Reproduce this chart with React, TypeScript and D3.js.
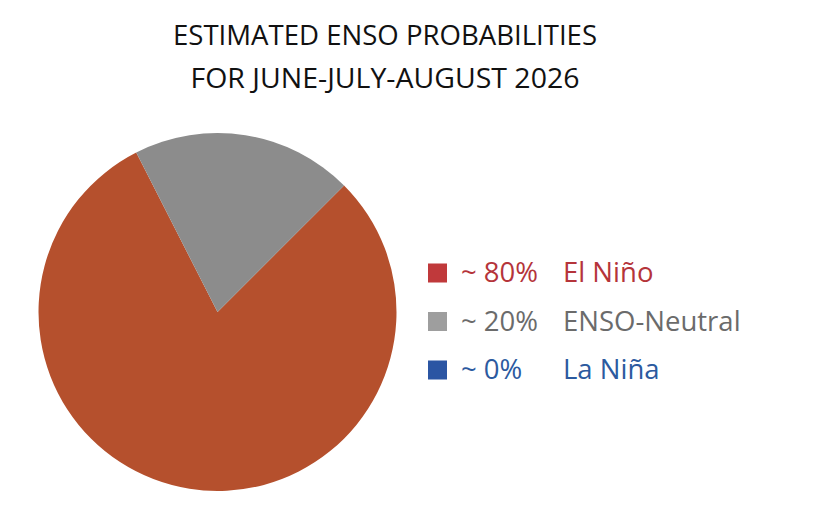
import React from "react";
import * as d3 from "d3";

const titleLines = ["ESTIMATED ENSO PROBABILITIES", "FOR JUNE-JULY-AUGUST 2026"];
const categories = ["El Niño", "ENSO-Neutral", "La Niña"];
const probabilities = [80, 20, 0];
const probLabels = ["~ 80%", "~ 20%", "~ 0%"];
const sliceColors = ["#B5502D", "#8C8C8C", "#2B55A3"];
const swatchColors = ["#C0393B", "#9E9E9E", "#2B55A3"];
const textColors = ["#B5343A", "#6B6B6B", "#2C5A9F"];

export default function App() {
  const W = 840;
  const H = 512;
  const cx = 217.5;
  const cy = 312;
  const r = 179;
  const pie = d3
    .pie<number>()
    .sort(null)
    .startAngle(Math.PI / 4)
    .endAngle(Math.PI / 4 + 2 * Math.PI);
  const arcs = pie(probabilities);
  const arc = d3.arc<d3.PieArcDatum<number>>().innerRadius(0).outerRadius(r);
  const font = "'Open Sans', 'Noto Sans', sans-serif";
  const legendY = d3.scalePoint<string>().domain(categories).range([282, 379]);

  return (
    <svg
      width={W}
      height={H}
      style={{ position: "absolute", left: 0, top: 0, background: "#fff" }}
      fontFamily={font}
    >
      <rect width={W} height={H} fill="#fff" />
      {titleLines.map((t, i) => (
        <text
          key={t}
          x={385}
          y={44.5 + i * 43.5}
          textAnchor="middle"
          fontSize={28}
          fill="#111"
          textLength={i === 0 ? 424 : 389}
          lengthAdjust="spacingAndGlyphs"
        >
          {t}
        </text>
      ))}
      <g transform={`translate(${cx},${cy})`}>
        {arcs.map((a, i) =>
          a.endAngle > a.startAngle ? (
            <path key={categories[i]} d={arc(a) ?? ""} fill={sliceColors[i]} />
          ) : null
        )}
      </g>
      {categories.map((c, i) => {
        const y = legendY(c) ?? 0;
        return (
          <g key={c}>
            <rect x={428} y={y - 18.5} width={19} height={19} fill={swatchColors[i]} />
            <text x={461} y={y} fontSize={27.5} fill={textColors[i]}>
              {probLabels[i]}
            </text>
            <text x={563} y={y} fontSize={27.5} fill={textColors[i]}>
              {c}
            </text>
          </g>
        );
      })}
    </svg>
  );
}
